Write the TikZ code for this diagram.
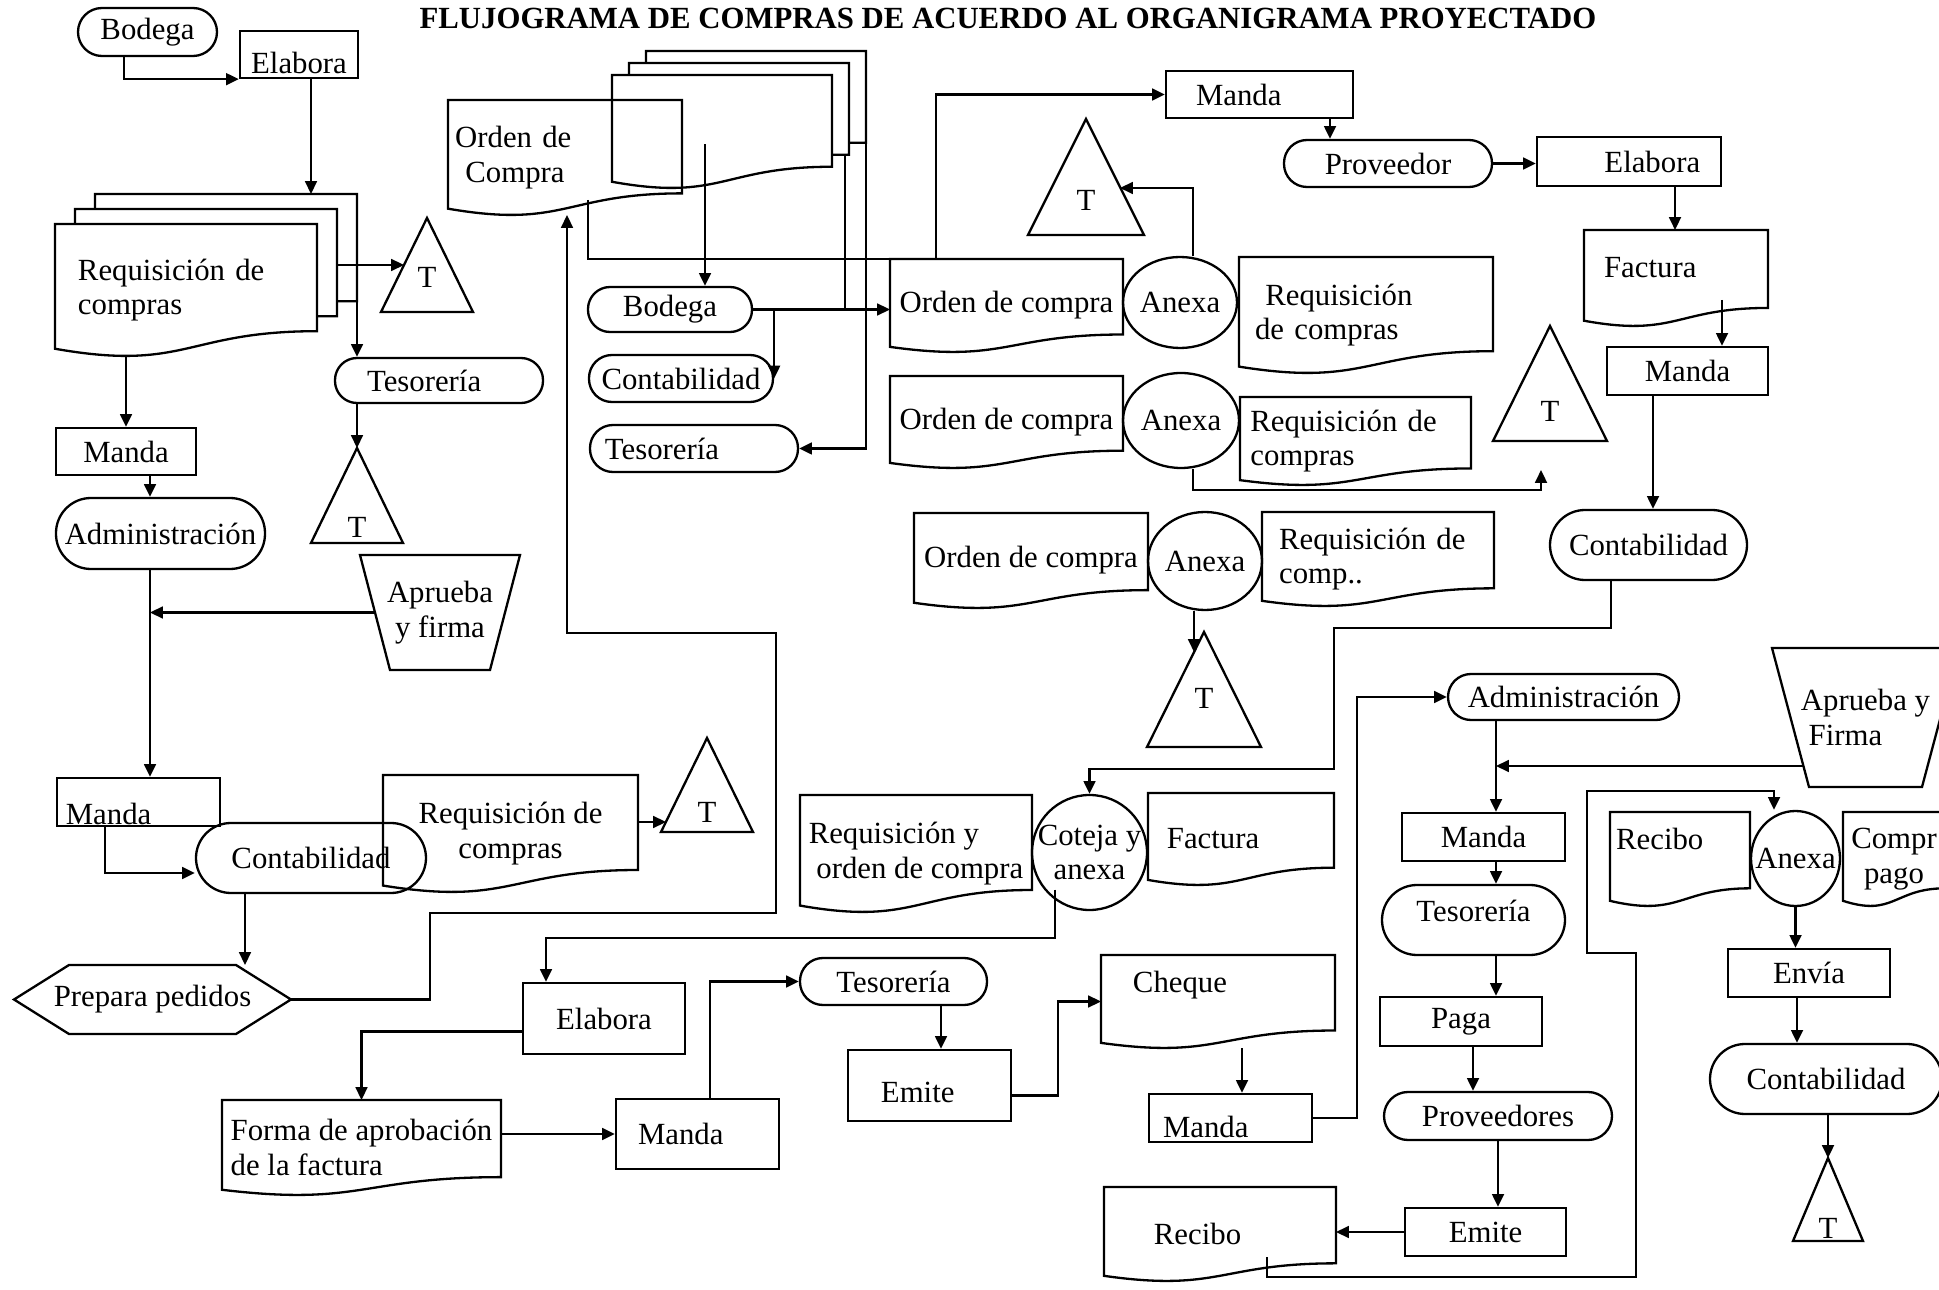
\documentclass[tikz,border=0pt]{standalone}
\usepackage{fontspec}
\setmainfont{Liberation Serif}
\usepackage{tikz}
\usetikzlibrary{arrows.meta,calc,shapes.geometric}
\newcommand{\pxu}{0.0137cm}
% document outline round a named node
\newcommand{\docpath}[1]{%
  \draw (#1.north west) -- (#1.north east) -- ($(#1.north east)!0.812!(#1.south east)$)
    .. controls ($(#1.north)!0.812!(#1.south)$) and ($(#1.north)!1.121!(#1.south)$)
    .. ($(#1.north west)!0.945!(#1.south west)$) -- cycle;}
% the two pages behind a document
\newcommand{\stackpages}[3]{%
  \coordinate (#1-r) at ($(#1.north east)!0.812!(#1.south east)$);
  \coordinate (#1-2) at ($(#1.north east)+(#2,-#3)$);
  \coordinate (#1-3) at ($(#1.north east)+(2*#2,-2*#3)$);
  \coordinate (#1-2b) at ($(#1-r)+(#2,-#3)$);
  \coordinate (#1-3b) at ($(#1-r)+(2*#2,-2*#3)$);
  \draw ($(#1.north west)+(#2,0)$) |- (#1-2) -- (#1-2b) -- ($(#1-r)+(0,-#3)$);
  \draw ($(#1.north west)+(2*#2,-#3)$) |- (#1-3) -- (#1-3b) -- ($(#1-r)+(#2,-2*#3)$);}
% T triangle: name, apex x, apex y, half width, height, y of the letter
\newcommand{\tsym}[6]{%
  \coordinate (#1a) at (#2,#3);
  \draw (#1a) -- ++(-#4,#5) -- ++(2*#4,0) -- cycle;
  \node (#1) at (#2,#6) {T};}

\begin{document}
\begin{tikzpicture}[x=\pxu, y=-\pxu, line width=0.9pt,
  every node/.style={font=\fontsize{12}{13.5}\selectfont, inner sep=0.5pt},
  sz/.style 2 args={minimum width=#1*\pxu, minimum height=#2*\pxu},
  proc/.style={draw, rectangle},
  term/.style={draw, rectangle, rounded corners=#1*\pxu},
  doc/.style={rectangle, align=left, outer sep=0pt},
  bare/.style={rectangle, outer sep=0pt},
  anx/.style={draw, ellipse, inner sep=0pt},
  arr/.style={-{Triangle[length=5pt,width=4.6pt]}}]
\useasboundingbox (0,0) rectangle (1939,1290);

% Title
\node[font=\fontsize{12}{14}\selectfont\bfseries] (title) at (1008,18) {FLUJOGRAMA DE COMPRAS DE ACUERDO AL ORGANIGRAMA PROYECTADO};

% Left column
\node[term=24, sz={139}{48}] (bod1) at (147.5,32) {Bodega};
\node[proc, sz={118}{47}, text height=14.8pt] (ela1) at (299,54.5) {Elabora};
\node[doc, sz={262}{132}, text width=2.96cm] (req1) at (186,290) {Requisición de\\compras};
\tsym{t1}{427}{218}{46}{94}{277}
\node[term=22, sz={208}{45}, text width=1.97cm, align=left] (tes1) at (439,380.5) {Tesorería};
\tsym{t2}{357}{448}{46}{95}{527}
\node[proc, sz={140}{47}] (man2) at (126,451.5) {Manda};
\node[term=35, sz={209}{71}] (adm1) at (160.5,533.5) {Administración};
\node[bare, sz={160}{115}, align=center] (apr1) at (440,612.5) {Aprueba\\y firma};
\node[proc, sz={163}{48}, text width=1.99cm, align=left, text height=17.5pt] (man3) at (138.5,802) {Manda};
\node[term=35, sz={230}{70}] (cont2) at (311,858) {Contabilidad};
\node[doc, sz={255}{117}, align=center] (req4) at (510.5,833.5) {Requisición de\\compras};
\tsym{t3}{707}{738}{46}{94}{812}
\node[bare, sz={277}{69}] (prep) at (152.5,999.5) {Prepara pedidos};

% Middle, top
\node[doc, sz={234}{115}, text width=3.01cm] (oc1) at (565,157.5) {Orden de\\\ Compra};
\node[doc, sz={220}{113}] (ocs) at (722,131.5) {};
\node[term=22, sz={164}{45}] (bod2) at (670,309.5) {Bodega};
\node[term=23, sz={184}{47}] (contm) at (681,378.5) {Contabilidad};
\node[term=23, sz={208}{47}, text width=2.44cm, align=left] (tesm) at (694,448.5) {Tesorería};
\node[doc, sz={233}{93}] (oc2) at (1006.5,305.5) {Orden de compra};
\node[anx, sz={114}{91}, label=center:Anexa] (anx1) at (1180,302.5) {};
\node[doc, sz={254}{116}, text width=3.04cm] (req5) at (1366,315) {\ Requisición\\de compras};
\tsym{tt}{1086}{119}{58}{116}{200}
\node[proc, sz={187}{47}, text width=1.74cm, align=left] (mant) at (1259.5,94.5) {Manda};
\node[term=23, sz={208}{47}] (prov) at (1388,163.5) {Proveedor};
\node[proc, sz={184}{49}, text width=1.95cm, align=right] (ela3) at (1629,161.5) {Elabora};
\node[doc, sz={184}{96}, text width=1.97cm, text depth=8.6pt] (fact1) at (1676,278) {Factura};
\node[proc, sz={161}{48}] (man7) at (1687.5,371) {Manda};
\node[term=35, sz={197}{70}] (cont1) at (1648.5,545) {Contabilidad};
\tsym{t5}{1550}{326}{57}{115}{411}
\node[doc, sz={233}{92}] (ocb) at (1006.5,422) {Orden de compra};
\node[anx, sz={116}{95}, label=center:Anexa] (anxb) at (1181,420.5) {};
\node[doc, sz={231}{88}, text width=2.88cm] (req6) at (1355.5,441) {Requisición de\\compras};
\node[doc, sz={234}{95}] (oc3) at (1031,560.5) {Orden de compra};
\node[anx, sz={114}{98}, label=center:Anexa] (anx2) at (1205,561) {};
\node[doc, sz={232}{94}, text width=2.71cm] (req7) at (1378,559) {Requisición de\\comp..};
\tsym{t4}{1204}{632}{57}{115}{698}

% Middle, bottom
\node[doc, sz={232}{117}] (req8) at (916,853.5) {Requisición y\\\ orden de compra};
\node[anx, sz={115}{115}, label={[align=center]center:Coteja y\\anexa}] (cot) at (1089.5,852.5) {};
\node[doc, sz={186}{92}, text width=2.03cm] (fact2) at (1241,839) {Factura};
\node[proc, sz={162}{71}] (ela2) at (604,1018.5) {Elabora};
\node[doc, sz={279}{95}] (forma) at (361.5,1147.5) {Forma de aprobación\\de la factura};
\node[proc, sz={163}{70}, text width=1.63cm, align=left] (man4) at (697.5,1134) {Manda};
\node[term=23, sz={187}{47}] (tes3) at (893.5,981.5) {Tesorería};
\node[proc, sz={163}{71}, text width=1.33cm, align=left, text height=13.6pt] (emi1) at (929.5,1085.5) {Emite};
\node[doc, sz={234}{93}, text width=2.33cm, text depth=15pt] (cheq) at (1218,1001.5) {Cheque};
\node[proc, sz={163}{48}, text width=1.85cm, align=left, text height=15pt] (man5) at (1230.5,1118) {Manda};
\node[doc, sz={232}{94}, text width=1.81cm] (rec1) at (1220,1234) {Recibo};

% Right column
\node[term=23, sz={231}{46}] (adm2) at (1563.5,697) {Administración};
\node[bare, sz={187}{139}, align=left] (apr2) at (1865.5,717.5) {Aprueba y\\\ Firma};
\node[proc, sz={163}{48}] (man6) at (1483.5,837) {Manda};
\node[term=35, sz={183}{70}, text depth=7pt] (tes4) at (1473.5,920) {Tesorería};
\node[proc, sz={162}{49}] (paga) at (1461,1021.5) {Paga};
\node[term=24, sz={228}{48}] (provs) at (1498,1116) {Proveedores};
\node[proc, sz={161}{48}] (emi2) at (1485.5,1232) {Emite};
\node[doc, sz={140}{94}, text width=1.75cm, text depth=15.6pt] (rec2) at (1680,859) {Recibo};
\node[anx, sz={89}{95}, label=center:Anexa] (anx3) at (1795.5,858.5) {};
\node[doc, sz={102}{94}, align=center] (compr) at (1894,859) {Compr\\pago};
\node[proc, sz={162}{48}] (env) at (1809,973) {Envía};
\node[term=35, sz={232}{70}] (cont3) at (1826,1079) {Contabilidad};
\tsym{t6}{1828}{1158}{35}{83}{1228}

% Document outlines
\docpath{req1} \docpath{req4} \docpath{oc1} \docpath{ocs} \docpath{oc2}
\docpath{req5} \docpath{ocb} \docpath{req6} \docpath{oc3} \docpath{req7}
\docpath{fact1} \docpath{req8} \docpath{fact2} \docpath{forma} \docpath{cheq}
\docpath{rec1} \docpath{rec2} \docpath{compr}
\stackpages{req1}{20}{15}
\stackpages{ocs}{17}{12}

% Manual operations and preparation
\draw (apr1.north west) -- (apr1.north east) -- ([xshift=-30*\pxu]apr1.south east) -- ([xshift=30*\pxu]apr1.south west) -- cycle;
\draw (apr2.north west) -- (apr2.north east) -- ([xshift=-37*\pxu]apr2.south east) -- ([xshift=37*\pxu]apr2.south west) -- cycle;
\draw (prep.west) -- ([xshift=55*\pxu]prep.north west) -- ([xshift=-55*\pxu]prep.north east) -- (prep.east)
  -- ([xshift=-55*\pxu]prep.south east) -- ([xshift=55*\pxu]prep.south west) -- cycle;

% Free ends of connectors
\coordinate (t1in) at (404,265);
\coordinate (t3in) at (666,822);
\coordinate (ttin) at (1120,188);
\coordinate (t4in) at (1194,652);
\coordinate (t5in) at (1541,470);
\coordinate (j2) at (1496,766);

% Left column flow
\draw[arr] (124,0 |- bod1.south) |- (ela1.south west);
\draw[arr] (311,0 |- ela1.south) -- (311,0 |- req1-3);
\draw[arr] (req1-2 |- t1in) -- (t1in);
\draw[arr] (req1-3) -- (req1-3 |- tes1.north);
\draw[arr] (req1-3 |- tes1.south) -- (t2a);
\draw[arr] (req1.south -| man2.north) -- (man2.north);
\draw[arr] (150,0 |- man2.south) -- (150,0 |- adm1.north);
\draw[arr] (150,0 |- adm1.south) -- (150,0 |- man3.north);
\draw[arr] ([xshift=15*\pxu]apr1.west) -- (150,0 |- apr1.west);
\draw[arr] (105,0 |- man3.south) |- ([yshift=-15*\pxu]cont2.west);
\draw[arr] (req4.east |- t3in) -- (t3in);
\draw[arr] (245,0 |- cont2.south) -- (245,0 |- prep.north);
\draw[arr] (prep.east) -| (430,913) -| (776,633) -| (567,0 |- oc1.south);

% Middle, top flow
\draw ([xshift=23*\pxu,yshift=15*\pxu]oc1.south) |- (oc2.north west);
\draw[arr] ([xshift=-17*\pxu,yshift=-13*\pxu]ocs.center) -- (705,0 |- bod2.north);
\draw[arr] (bod2.east) -| (contm.east);
\draw[arr] (bod2.east) -- (bod2.east -| oc2.west);
\draw (845,0 |- ocs-2b) -- (845,0 |- bod2.east);
\draw[arr] (ocs-3b) |- (tesm.east);
\draw[arr] (936,0 |- oc2.north) |- (mant.west);
\draw[arr] (1330,0 |- mant.south) -- (1330,0 |- prov.north);
\draw[arr] (prov.east) -- (prov.east -| ela3.west);
\draw[arr] (1675,0 |- ela3.south) -- (1675,0 |- fact1.north);
\draw[arr] ([xshift=46*\pxu,yshift=26*\pxu]fact1.south) -- (1722,0 |- man7.north);
\draw[arr] (1653,0 |- man7.south) -- (1653,0 |- cont1.north);
\draw[arr] (1193,0 |- anx1.north) |- (ttin);
\draw[arr] (1193,0 |- anxb.south) |- (1541,490) -- (t5in);
\draw[arr] (1194,0 |- anx2.south) -- (t4in);
\draw[arr] (1611,0 |- cont1.south) |- (1334,628) |- (cot.north |- 0,769) -- (cot.north);

% Middle, bottom flow
\draw[arr] ([xshift=-34.5*\pxu,yshift=-37*\pxu]cot.center) |- (546,938) -- (546,0 |- ela2.north);
\draw[arr] ([yshift=-13*\pxu]ela2.west) -| (forma.north);
\draw[arr] (forma.east |- man4.west) -- (man4.west);
\draw[arr] (710,0 |- man4.north) |- (tes3.west);
\draw[arr] (941,0 |- tes3.south) -- (941,0 |- emi1.north);
\draw[arr] ([yshift=-10*\pxu]emi1.east) -| (1058,0 |- cheq.west) -- (cheq.west);
\draw[arr] (1242,0 |- cheq.south) -- (1242,0 |- man5.north);
\draw[arr] (man5.east) -| (1357,0 |- adm2.west) -- (adm2.west);

% Right column flow
\draw[arr] (1496,0 |- adm2.south) -- (1496,0 |- man6.north);
\draw[arr] ([xshift=31*\pxu,yshift=-48.5*\pxu]apr2.west) -- (j2);
\draw[arr] (1496,0 |- man6.south) -- (1496,0 |- tes4.north);
\draw[arr] (1496,0 |- tes4.south) -- (1496,0 |- paga.north);
\draw[arr] (1473,0 |- paga.south) -- (1473,0 |- provs.north);
\draw[arr] (1498,0 |- provs.south) -- (1498,0 |- emi2.north);
\draw[arr] (emi2.west) -- (emi2.west -| rec1.east);
\draw[arr] ([xshift=47*\pxu,yshift=-23*\pxu]rec1.center) |- (1636,1277) |- (1587,953) |- (1774,791) -- (1774,0 |- anx3.north);
\draw[arr] (anx3.south) -- (anx3.south |- env.north);
\draw[arr] (1797,0 |- env.south) -- (1797,0 |- cont3.north);
\draw[arr] (1828,0 |- cont3.south) -- (t6a);
\end{tikzpicture}
\end{document}
